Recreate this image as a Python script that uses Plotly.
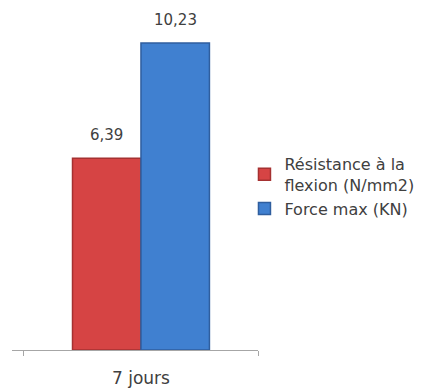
import plotly.graph_objects as go

categories = ["7 jours"]
series_names = ["Résistance à la<br>flexion (N/mm2)", "Force max (KN)"]
resistance = [6.39]
force_max = [10.23]


def label_fmt(v):
    return f"{v:.2f}".replace(".", ",")


FONT = "DejaVu Sans, Verdana, sans-serif"
TEXT_COLOR = "#404040"

fig = go.Figure()
fig.add_trace(go.Bar(
    x=categories, y=resistance, name=series_names[0],
    marker=dict(color="#D64444", line=dict(color="#A53131", width=1.5)),
))
fig.add_trace(go.Bar(
    x=categories, y=force_max, name=series_names[1],
    marker=dict(color="#4080D0", line=dict(color="#2F5E9E", width=1.5)),
))

# value labels sit above each bar of the group (left bar, right bar)
for values, shift in ((resistance, -34.5), (force_max, 34.5)):
    for cat, v in zip(categories, values):
        fig.add_annotation(
            x=cat, y=v, xref="x", yref="y", text=label_fmt(v),
            showarrow=False, xshift=shift, yshift=23, yanchor="middle",
            font=dict(family=FONT, size=15, color=TEXT_COLOR),
        )

fig.update_layout(
    width=424, height=389,
    margin=dict(l=12, r=166, t=20, b=39, autoexpand=False),
    paper_bgcolor="white", plot_bgcolor="white",
    font=dict(family=FONT, color=TEXT_COLOR),
    barmode="group", bargap=0.415, bargroupgap=0,
    showlegend=True,
    legend=dict(x=0.945, y=0.615, xanchor="left", yanchor="top",
                font=dict(family=FONT, size=16, color=TEXT_COLOR),
                tracegroupgap=2, itemwidth=30),
)
fig.update_xaxes(
    range=[-0.551, 0.5], showline=True, linecolor="#A6A6A6", linewidth=1,
    ticks="outside", tickson="boundaries", ticklen=5, tickcolor="#A6A6A6",
    tickfont=dict(family=FONT, size=17, color=TEXT_COLOR), showgrid=False,
    ticklabelstandoff=13, automargin=False,
)
fig.update_yaxes(range=[0, 11], visible=False, automargin=False)

fig.write_html("out.html")
